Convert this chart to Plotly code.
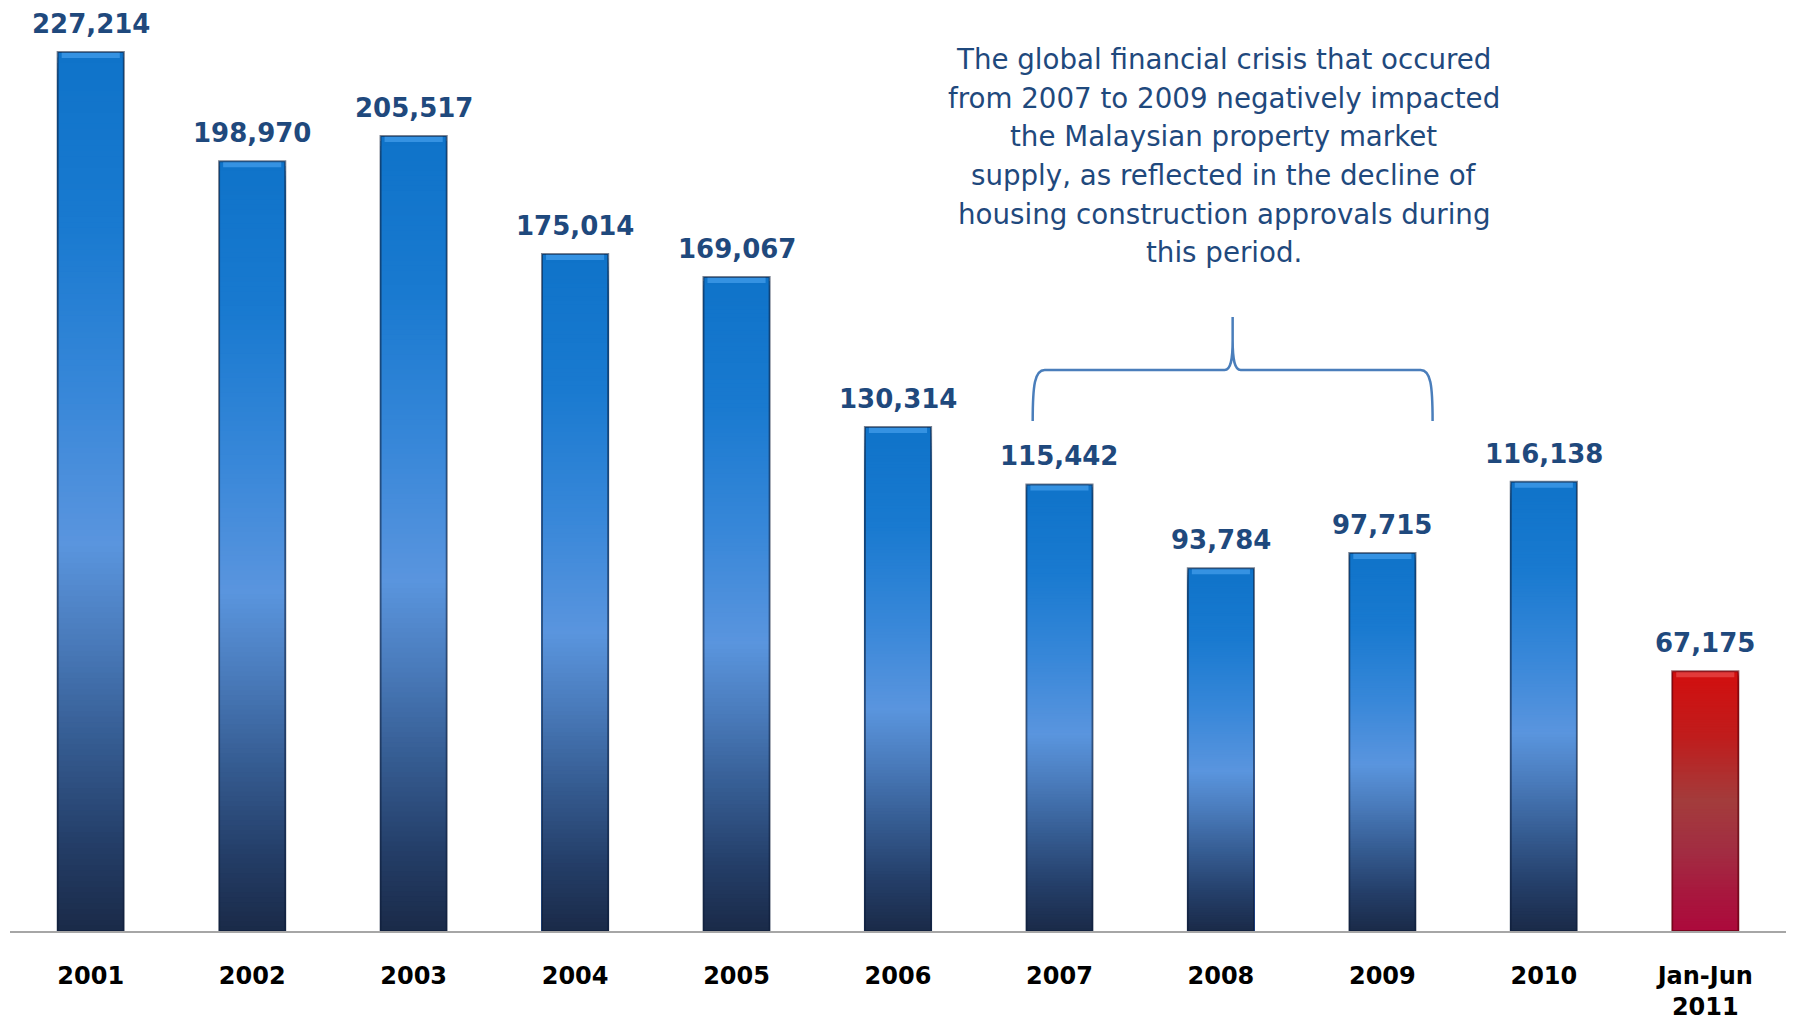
import plotly.graph_objects as go

# ---------------- data ----------------
categories = ["2001", "2002", "2003", "2004", "2005", "2006", "2007", "2008",
              "2009", "2010", "Jan-Jun<br>2011"]
values = [227214, 198970, 205517, 175014, 169067, 130314, 115442, 93784,
          97715, 116138, 67175]
is_partial_year = [False] * 10 + [True]

note_lines = ["The global financial crisis that occured",
              "from 2007 to 2009 negatively impacted",
              "the Malaysian property market",
              "supply, as reflected in the decline of",
              "housing construction approvals during",
              "this period."]

# ---------------- styling ----------------
W, H = 1800, 1020
OFF = 8                      # page body margin of the html page
ML, MR, MT, MB = 10 - OFF, 13.5 + OFF, 20 - OFF, 89 + OFF
YMAX = 235500
LABEL_BLUE = "#1F497D"

blue_stops = [(0.00, "#0f73c9"), (0.20, "#197ad0"), (0.40, "#3a88d9"),
              (0.56, "#5a95de"), (0.66, "#4b7dbe"), (0.78, "#365d93"),
              (0.90, "#243e68"), (1.00, "#1a2a48")]
red_stops = [(0.00, "#d20f0f"), (0.25, "#c01c1c"), (0.50, "#a33c3c"),
             (0.70, "#a22c42"), (0.85, "#a8183e"), (1.00, "#ac0a3c")]


def hex2rgb(h):
    h = h.lstrip("#")
    return tuple(int(h[i:i + 2], 16) for i in (0, 2, 4))


def grad(stops, t):
    for (t0, c0), (t1, c1) in zip(stops[:-1], stops[1:]):
        if t0 <= t <= t1:
            f = (t - t0) / (t1 - t0) if t1 > t0 else 0
            a, b = hex2rgb(c0), hex2rgb(c1)
            return "rgb(%d,%d,%d)" % tuple(round(a[i] + (b[i] - a[i]) * f) for i in range(3))
    return stops[-1][1]


fig = go.Figure()

# Gradient fill: overlaid bars, each shorter one covering the lower part
N = 160
for k in range(N):
    frac = 1 - k / N
    t = (k + 0.5) / N
    colors = [grad(red_stops if p else blue_stops, t) for p in is_partial_year]
    fig.add_trace(go.Bar(
        x=categories, y=[v * frac for v in values],
        marker=dict(color=colors, line=dict(width=0)),
        width=0.41, hoverinfo="skip", showlegend=False))

pw, ph = W - ML - MR, H - MT - MB

# Top bevel highlight
bevel = YMAX * 6 / ph
fig.add_trace(go.Bar(
    x=categories, y=[bevel] * len(values), base=[v - bevel for v in values],
    marker=dict(color=["#e23a3a" if p else "#3592e2" for p in is_partial_year],
                line=dict(width=0)),
    width=0.36, hoverinfo="skip", showlegend=False))

# Outline shading on the sides
fig.add_trace(go.Bar(
    x=categories, y=values,
    marker=dict(color="rgba(0,0,0,0)",
                line=dict(width=2, color=["rgba(90,0,10,0.6)" if p else "rgba(12,28,55,0.55)"
                                          for p in is_partial_year])),
    width=0.41, showlegend=False,
    hovertemplate="%{x}: %{y:,}<extra></extra>"))

# Value labels (x given as category index on the category axis)
for i, v in enumerate(values):
    fig.add_annotation(x=i, y=v, xref="x", yref="y", text=f"{v:,}",
                       showarrow=False, yanchor="bottom", yshift=11,
                       font=dict(family="DejaVu Sans", size=26, color=LABEL_BLUE,
                                 weight="bold"))


def px2paper(px, py):
    """page pixel -> paper coords"""
    return (px - OFF - ML) / pw, (H - MB - (py - OFF)) / ph


# Curly brace over 2007-2009
pts = {
    "a": (1033, 421), "c1": (1033, 385), "c2": (1035, 370), "b": (1045, 370),
    "d": (1225, 370), "c3": (1231, 370), "c4": (1233, 360), "e": (1233, 340),
    "tip": (1233, 317), "c5": (1233, 360), "c6": (1235, 370), "f": (1241, 370),
    "g": (1421, 370), "c7": (1431, 370), "c8": (1433, 385), "h": (1433, 421),
}
P = {k: "%.5f,%.5f" % px2paper(*v) for k, v in pts.items()}
path = (f"M {P['a']} C {P['c1']} {P['c2']} {P['b']} L {P['d']} "
        f"C {P['c3']} {P['c4']} {P['e']} L {P['tip']} "
        f"M {P['e']} C {P['c5']} {P['c6']} {P['f']} L {P['g']} "
        f"C {P['c7']} {P['c8']} {P['h']}")
fig.add_shape(type="path", path=path, xref="paper", yref="paper",
              line=dict(color="#4a7ebb", width=2.5))

# Note text, one line per annotation for the original line pitch
for j, line in enumerate(note_lines):
    nx, ny = px2paper(1224, 59.7 + 38.6 * j)
    fig.add_annotation(x=nx, y=ny, xref="paper", yref="paper", text=line,
                       showarrow=False, align="center", xanchor="center", yanchor="middle",
                       font=dict(family="DejaVu Sans", size=27.7, color=LABEL_BLUE))

fig.update_layout(
    width=W, height=H, barmode="overlay", bargap=0.59,
    margin=dict(l=ML, r=MR, t=MT, b=MB),
    plot_bgcolor="white", paper_bgcolor="white",
    xaxis=dict(type="category", range=[-0.5, len(categories) - 0.5],
               showline=True, linecolor="#a6a6a6", linewidth=1.5,
               ticks="outside", ticklen=22, tickcolor="rgba(0,0,0,0)",
               tickfont=dict(family="DejaVu Sans", size=24, color="black", weight="bold"),
               showgrid=False, zeroline=False, automargin=False, fixedrange=True),
    yaxis=dict(range=[0, YMAX], visible=False, showgrid=False, zeroline=False,
               fixedrange=True),
)

fig.write_html("out.html")
